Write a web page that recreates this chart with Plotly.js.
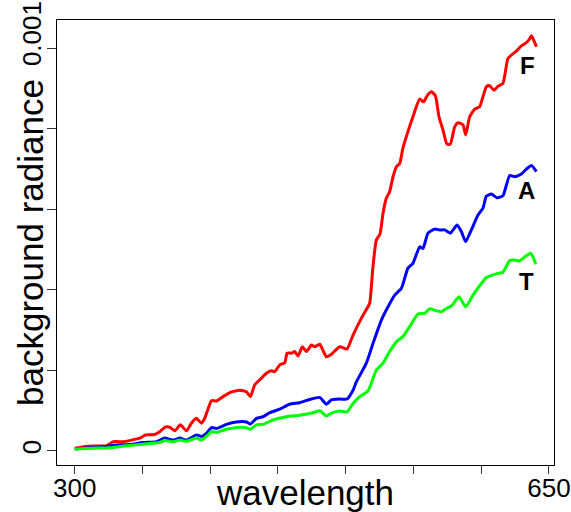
<!DOCTYPE html>
<html>
<head>
<meta charset="utf-8">
<script src="https://cdn.plot.ly/plotly-3.0.1.min.js"></script>
<style>html,body{margin:0;padding:0;background:#fff;}#chart{width:571px;height:512px;}</style>
</head>
<body>
<div id="chart"></div>
<script>
// values in units of 1e-4
var SCALE = 1e-4;

var wlF = [300.0,309.8,323.4,328.3,335.6,341.8,348.0,352.4,359.0,362.7,367.1,370.1,373.8,378.0,382.4,386.1,389.8,393.5,395.9,400.9,404.6,409.4,414.4,421.8,426.7,429.6,432.8,437.8,441.5,445.1,447.6,451.3,455.0,456.7,459.9,462.3,464.8,468.0,471.0,474.7,477.1,480.8,485.7,489.4,495.5,500.9,505.4,511.6,516.4,517.7,520.1,522.6,525.3,527.5,530.0,532.4,534.9,537.4,539.8,542.2,545.9,549.6,554.6,557.5,560.0,563.2,566.2,568.8,571.8,574.7,577.2,580.4,582.8,586.5,588.5,591.5,595.2,598.8,603.8,606.2,609.4,612.4,616.0,619.7,622.2,625.9,629.6,632.1,635.2,637.0,638.9,640.7];
var F = [0.07,0.12,0.13,0.23,0.23,0.27,0.32,0.40,0.41,0.48,0.60,0.59,0.50,0.65,0.50,0.69,0.81,0.69,0.81,1.25,1.24,1.35,1.45,1.51,1.47,1.35,1.64,1.81,1.93,1.99,1.97,2.14,2.19,2.43,2.43,2.47,2.36,2.59,2.47,2.63,2.59,2.65,2.34,2.40,2.59,2.53,2.88,3.30,3.58,3.67,4.58,5.24,5.39,5.90,6.28,6.44,6.81,7.06,7.14,7.52,7.93,8.30,8.74,8.67,8.82,8.92,8.82,8.30,7.97,7.62,7.62,8.05,8.15,8.10,7.85,8.30,8.49,8.55,9.05,9.07,8.96,9.06,9.13,9.75,9.83,9.93,10.06,10.11,10.21,10.31,10.19,10.04];

var wlA = [300.0,311.1,323.4,330.8,340.6,350.4,360.3,366.4,372.5,377.5,382.4,389.8,393.5,397.2,400.9,404.6,411.9,419.3,426.7,429.6,434.1,438.9,443.9,451.3,458.6,466.0,473.4,480.8,485.7,489.4,495.5,500.9,505.4,507.9,515.2,520.1,526.3,531.2,536.1,541.1,545.9,549.6,554.6,557.0,560.7,565.6,569.3,573.0,577.2,582.1,585.3,588.5,592.7,597.6,601.3,603.8,607.5,611.6,616.0,621.0,624.7,629.6,633.3,637.0,640.7];
var A = [0.05,0.08,0.11,0.15,0.16,0.21,0.23,0.32,0.27,0.32,0.27,0.40,0.36,0.44,0.58,0.56,0.66,0.72,0.72,0.67,0.81,0.85,0.95,1.04,1.16,1.20,1.28,1.33,1.16,1.27,1.29,1.29,1.51,1.72,2.18,2.67,3.25,3.58,3.87,4.04,4.54,4.66,5.07,5.03,5.41,5.51,5.49,5.49,5.41,5.61,5.45,5.20,5.49,5.86,6.03,6.33,6.38,6.29,6.34,6.84,6.81,6.88,7.00,7.09,6.94];

var wlT = [300.0,313.5,325.8,338.1,350.4,362.7,366.4,372.5,377.5,382.4,389.8,393.5,398.4,400.9,404.6,411.9,421.8,426.7,429.6,434.1,438.9,446.3,456.2,466.0,475.8,480.8,485.7,489.4,495.5,500.9,505.4,510.3,516.4,522.6,527.5,532.4,537.4,542.2,547.2,553.3,558.3,561.9,566.9,570.6,574.3,578.0,583.6,588.5,593.9,598.8,603.8,611.2,616.0,621.0,624.7,628.4,632.1,636.3,638.2,640.2];
var T = [0.05,0.07,0.08,0.13,0.17,0.21,0.26,0.23,0.27,0.24,0.32,0.27,0.40,0.48,0.46,0.54,0.59,0.58,0.54,0.65,0.66,0.77,0.85,0.89,0.95,1.00,0.87,0.94,0.99,0.97,1.18,1.35,1.49,2.01,2.18,2.47,2.71,2.84,3.09,3.40,3.42,3.53,3.48,3.46,3.54,3.60,3.83,3.58,3.87,4.10,4.31,4.40,4.44,4.73,4.74,4.72,4.82,4.91,4.82,4.64];

var seriesNames = ['F','A','T'];
var seriesColors = ['#ff0000','#0000ff','#00ff00'];
var labelPos = [[633.8,9.57],[633.4,6.46],[633.6,4.22]];

var xTickVals = [300,350,400,450,500,550,600,650];
var xTickText = ['300','','','','','','','650'];
var yTickVals = [0,0.0002,0.0004,0.0006,0.0008,0.001];
var yTickText = ['0','','','','','\u00a0\u00a0\u00a00.001'];

var FONT = 'Liberation Sans, Arial, sans-serif';

function sc(arr){ return arr.map(function(v){ return v*SCALE; }); }

var xs = [wlF, wlA, wlT];
var ys = [F, A, T];
var traces = xs.map(function(x,i){
  return {x:x, y:sc(ys[i]), type:'scatter', mode:'lines', name:seriesNames[i],
          line:{color:seriesColors[i], width:3, shape:'spline', smoothing:0.5}, showlegend:false, hoverinfo:'skip'};
});

var annotations = seriesNames.map(function(n,i){
  return {x:labelPos[i][0], y:labelPos[i][1]*SCALE, xref:'x', yref:'y', text:n, showarrow:false,
          font:{family:FONT, size:24, color:'#000', weight:'bold'}, xanchor:'center', yanchor:'middle'};
});
annotations.push({x:-0.0533, y:0.5, xref:'paper', yref:'paper', text:'background radiance', textangle:-90,
  showarrow:false, xanchor:'center', yanchor:'middle', font:{family:FONT, size:35, color:'#000'}});

var layout = {
  width:571, height:512,
  margin:{l:57, r:17, t:20, b:47},
  paper_bgcolor:'#fff', plot_bgcolor:'#fff',
  font:{family:FONT, color:'#000'},
  xaxis:{range:[286.9,653.7], tickvals:xTickVals, ticktext:xTickText, ticks:'outside', ticklen:8, tickwidth:1, tickcolor:'#333',
         showgrid:false, zeroline:false, showline:true, mirror:true, linecolor:'#000', linewidth:1, ticklabelstandoff:-8,
         tickfont:{size:26}, title:{text:'wavelength', font:{size:35}, standoff:0}},
  yaxis:{range:[-0.0000348,0.0010703], tickvals:yTickVals, ticktext:yTickText, ticks:'outside', ticklen:9, tickwidth:1, tickcolor:'#333',
         showgrid:false, zeroline:false, showline:true, mirror:true, linecolor:'#000', linewidth:1, tickangle:-90, ticklabelstandoff:-4,
         tickfont:{size:26}},
  annotations:annotations
};

Plotly.newPlot('chart', traces, layout, {displayModeBar:false, staticPlot:true});
</script>
</body>
</html>
